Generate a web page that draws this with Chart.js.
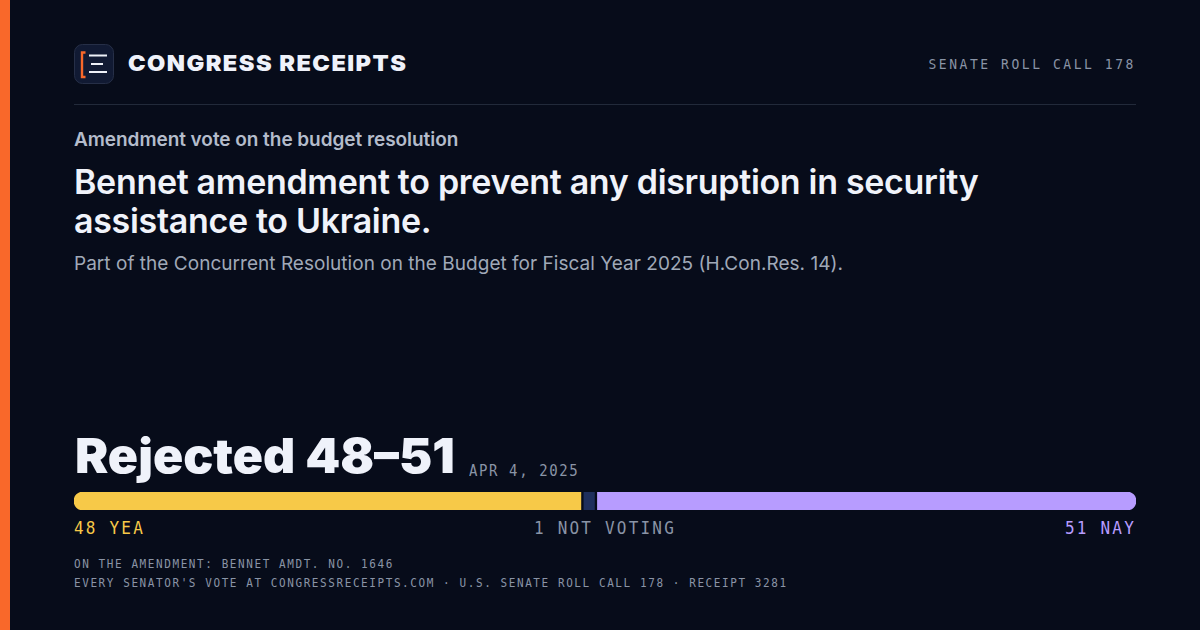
<!DOCTYPE html>
<html>
<head>
<meta charset="utf-8">
<script src="https://cdn.jsdelivr.net/npm/chart.js@4"></script>
<style>
  html, body { margin: 0; padding: 0; background: #070c1a; }
  body { width: 1200px; height: 630px; position: relative; overflow: hidden; font-family: Inter, sans-serif; }
  .t { position: absolute; white-space: nowrap; line-height: 1; }
  .mono { font-family: "DejaVu Sans Mono", monospace; transform: scaleY(1.12); }
  #accent { position: absolute; left: 0; top: 0; width: 10px; height: 630px; background: #f9682a; }
  #rule { position: absolute; left: 74px; top: 104px; width: 1062px; height: 1px; background: #222a3a; }
  #logo { position: absolute; left: 74px; top: 44px; }
  #barWrap { position: absolute; left: 74px; top: 492px; width: 1062px; height: 18px; }
</style>
</head>
<body>
<div id="accent"></div>
<svg id="logo" width="40" height="40" viewBox="0 0 40 40">
  <rect x="0.5" y="0.5" width="39" height="39" rx="8" fill="#111a33" stroke="#262f47"/>
  <path d="M11.5 8.5 H8 V33 H11.5" fill="none" stroke="#f9682a" stroke-width="2.4"/>
  <path d="M15 11.5 H33 M17 20 H29 M15 28 H33" fill="none" stroke="#eef1f8" stroke-width="2"/>
</svg>
<div class="t" style="left:128px;top:52px;font-size:22px;font-weight:900;letter-spacing:1.35px;color:#eff2fa;transform:scaleX(1.072);transform-origin:left">CONGRESS RECEIPTS</div>
<div class="t mono" style="right:64px;top:57px;font-size:13px;letter-spacing:2.55px;color:#8a94a6">SENATE ROLL CALL 178</div>
<div id="rule"></div>
<div class="t" style="left:74px;top:130px;font-size:19px;font-weight:600;letter-spacing:-0.05px;color:#b4bccb">Amendment vote on the budget resolution</div>
<div class="t" style="left:74px;top:162px;font-size:34px;line-height:39px;font-weight:600;letter-spacing:-0.31px;color:#f0f3fa">Bennet amendment to prevent any disruption in security<br>assistance to Ukraine.</div>
<div class="t" style="left:74px;top:254px;font-size:19px;font-weight:400;letter-spacing:0.03px;color:#a0a9b8">Part of the Concurrent Resolution on the Budget for Fiscal Year 2025 (H.Con.Res. 14).</div>
<div class="t" style="left:75px;top:432px;font-size:48px;font-weight:900;color:#eff2fa;transform:scaleX(1.04);transform-origin:left">Rejected 48–51</div>
<div class="t mono" style="left:469px;top:463px;font-size:14px;letter-spacing:1.6px;color:#8a94a6">APR 4, 2025</div>
<div id="barWrap"><canvas id="voteBar" width="1062" height="18"></canvas></div>
<div class="t mono" id="lab0" style="left:74px;top:520px;font-size:16px;letter-spacing:2.2px;color:#f7c948"></div>
<div class="t mono" id="lab1" style="left:534px;top:520px;font-size:16px;letter-spacing:2.2px;color:#8a94a6"></div>
<div class="t mono" id="lab2" style="right:64px;top:520px;font-size:16px;letter-spacing:2.2px;color:#b79cff"></div>
<div class="t mono" style="left:74px;top:559px;font-size:11px;letter-spacing:1.58px;color:#8a94a6">ON THE AMENDMENT: BENNET AMDT. NO. 1646</div>
<div class="t mono" style="left:74px;top:578px;font-size:11px;letter-spacing:1.58px;color:#8a94a6">EVERY SENATOR'S VOTE AT CONGRESSRECEIPTS.COM · U.S. SENATE ROLL CALL 178 · RECEIPT 3281</div>
<script>
const voteLabels = ['YEA', 'NOT VOTING', 'NAY'];
const voteCounts = [48, 1, 51];
const voteColors = ['#f7c948', '#1f2f5c', '#b79cff'];

// 3px gaps between segments, expressed in vote units (width 1062)
const total = voteCounts.reduce((a, b) => a + b, 0);
const gap = 3 / ((1062 - 6) / total);

let start = 0;
const datasets = voteCounts.map((n, i) => {
    const ds = {
        label: voteLabels[i],
        data: [[start, start + n]],
        backgroundColor: voteColors[i],
        borderSkipped: false,
        borderRadius: i === 0 ? { topLeft: 9, bottomLeft: 9 } : i === 2 ? { topRight: 9, bottomRight: 9 } : 0,
        barPercentage: 1,
        categoryPercentage: 1
    };
    start += n + gap;
    return ds;
});

new Chart(document.getElementById('voteBar'), {
    type: 'bar',
    data: { labels: ['Vote'], datasets: datasets },
    options: {
        indexAxis: 'y',
        responsive: false,
        animation: false,
        devicePixelRatio: 1,
        layout: { padding: 0 },
        plugins: { legend: { display: false }, tooltip: { enabled: false } },
        scales: {
            x: { display: false, min: 0, max: total + 2 * gap },
            y: { display: false, stacked: true }
        }
    }
});

voteLabels.forEach((l, i) => {
    document.getElementById('lab' + i).textContent = voteCounts[i] + ' ' + l;
});
</script>
</body>
</html>
